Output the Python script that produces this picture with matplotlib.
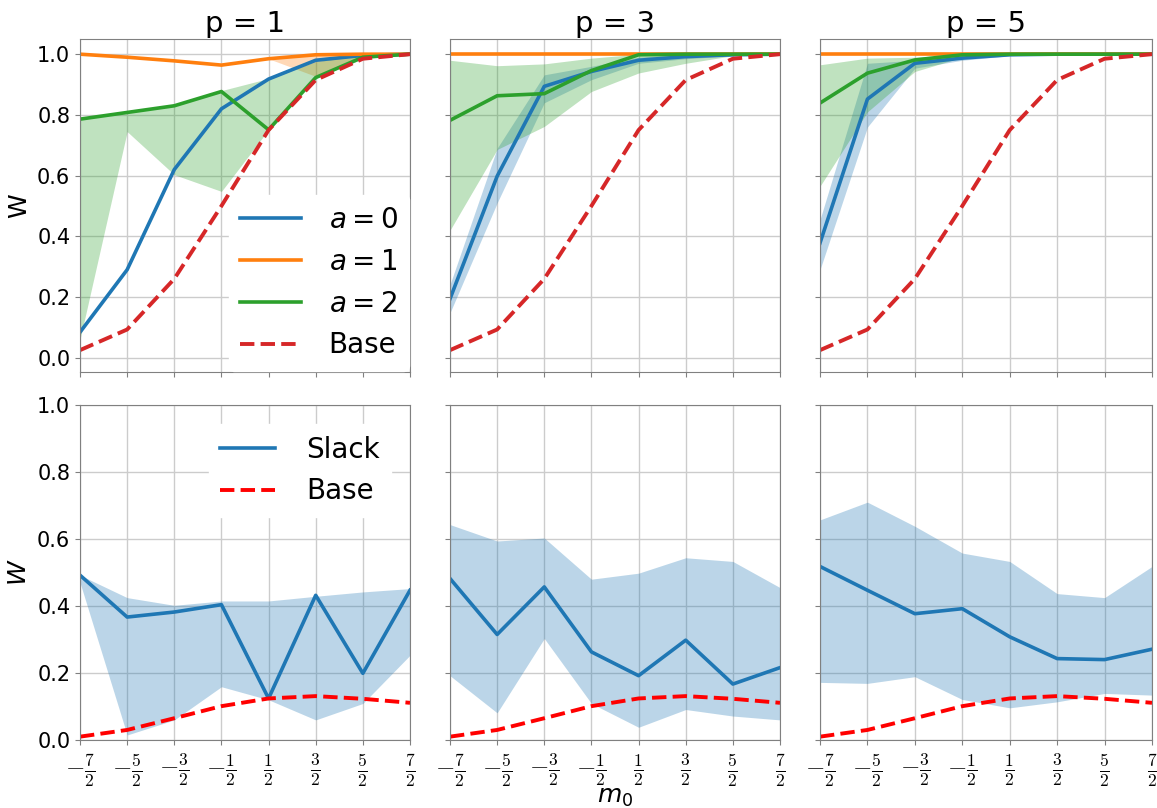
import numpy as np
import matplotlib.pyplot as plt
from matplotlib.ticker import FixedLocator, FixedFormatter

# m0 values on the x axis
m0 = [-3.5, -2.5, -1.5, -0.5, 0.5, 1.5, 2.5, 3.5]
m0_labels = [r'$-\frac{7}{2}$', r'$-\frac{5}{2}$', r'$-\frac{3}{2}$', r'$-\frac{1}{2}$',
             r'$\frac{1}{2}$', r'$\frac{3}{2}$', r'$\frac{5}{2}$', r'$\frac{7}{2}$']
p_values = [1, 3, 5]

# top row: W for a = 0, 1, 2 (mean, low, high) and the base curve
base_top = [0.025, 0.093, 0.26, 0.50, 0.75, 0.915, 0.985, 1.0]

a0_p1 = [0.084, 0.29, 0.62, 0.82, 0.918, 0.98, 0.996, 1.0]
a0_p1_lo = [0.084, 0.29, 0.62, 0.82, 0.918, 0.975, 0.995, 1.0]
a0_p1_hi = [0.084, 0.29, 0.62, 0.82, 0.92, 0.985, 1.0, 1.0]
a1_p1 = [1.0, 0.99, 0.978, 0.964, 0.985, 0.998, 1.0, 1.0]
a1_p1_lo = [1.0, 0.99, 0.978, 0.964, 0.985, 0.927, 0.99, 1.0]
a1_p1_hi = [1.0, 0.99, 0.978, 0.964, 0.985, 1.0, 1.0, 1.0]
a2_p1 = [0.786, 0.808, 0.83, 0.877, 0.751, 0.923, 0.99, 1.0]
a2_p1_lo = [0.06, 0.745, 0.603, 0.548, 0.751, 0.92, 0.985, 1.0]
a2_p1_hi = [0.786, 0.81, 0.835, 0.88, 0.92, 0.975, 1.0, 1.0]

a0_p3 = [0.194, 0.598, 0.894, 0.943, 0.98, 0.992, 0.998, 1.0]
a0_p3_lo = [0.148, 0.51, 0.84, 0.916, 0.97, 0.985, 0.995, 1.0]
a0_p3_hi = [0.241, 0.69, 0.932, 0.96, 0.99, 1.0, 1.0, 1.0]
a1_p3 = [1.0, 1.0, 1.0, 1.0, 1.0, 1.0, 1.0, 1.0]
a1_p3_lo = [1.0, 1.0, 1.0, 1.0, 1.0, 1.0, 1.0, 1.0]
a1_p3_hi = [1.0, 1.0, 1.0, 1.0, 1.0, 1.0, 1.0, 1.0]
a2_p3 = [0.782, 0.863, 0.87, 0.946, 0.998, 1.0, 1.0, 1.0]
a2_p3_lo = [0.42, 0.686, 0.762, 0.877, 0.938, 0.97, 0.995, 1.0]
a2_p3_hi = [0.98, 0.962, 0.968, 0.987, 1.0, 1.0, 1.0, 1.0]

a0_p5 = [0.378, 0.852, 0.97, 0.987, 0.998, 1.0, 1.0, 1.0]
a0_p5_lo = [0.29, 0.76, 0.954, 0.98, 0.995, 1.0, 1.0, 1.0]
a0_p5_hi = [0.455, 0.97, 0.98, 0.995, 1.0, 1.0, 1.0, 1.0]
a1_p5 = [1.0, 1.0, 1.0, 1.0, 1.0, 1.0, 1.0, 1.0]
a1_p5_lo = [1.0, 1.0, 1.0, 1.0, 1.0, 1.0, 1.0, 1.0]
a1_p5_hi = [1.0, 1.0, 1.0, 1.0, 1.0, 1.0, 1.0, 1.0]
a2_p5 = [0.839, 0.9375, 0.981, 0.998, 1.0, 1.0, 1.0, 1.0]
a2_p5_lo = [0.565, 0.81, 0.943, 0.99, 1.0, 1.0, 1.0, 1.0]
a2_p5_hi = [0.965, 0.987, 0.99, 1.0, 1.0, 1.0, 1.0, 1.0]

# bottom row: slack W (mean, low, high) and the base curve
base_bot = [0.01, 0.03, 0.065, 0.101, 0.124, 0.131, 0.123, 0.111]

slack_p1 = [0.492, 0.367, 0.382, 0.404, 0.124, 0.432, 0.199, 0.447]
slack_p1_lo = [0.47, 0.015, 0.06, 0.159, 0.12, 0.06, 0.109, 0.253]
slack_p1_hi = [0.492, 0.425, 0.402, 0.415, 0.415, 0.429, 0.442, 0.452]
slack_p3 = [0.482, 0.315, 0.457, 0.263, 0.192, 0.298, 0.167, 0.216]
slack_p3_lo = [0.192, 0.081, 0.303, 0.109, 0.038, 0.091, 0.0715, 0.06]
slack_p3_hi = [0.643, 0.594, 0.603, 0.48, 0.498, 0.544, 0.533, 0.455]
slack_p5 = [0.518, 0.447, 0.377, 0.392, 0.308, 0.243, 0.24, 0.271]
slack_p5_lo = [0.172, 0.169, 0.189, 0.121, 0.096, 0.114, 0.139, 0.134]
slack_p5_hi = [0.657, 0.71, 0.638, 0.558, 0.533, 0.437, 0.425, 0.518]

top_data = [
    [(a0_p1, a0_p1_lo, a0_p1_hi), (a1_p1, a1_p1_lo, a1_p1_hi), (a2_p1, a2_p1_lo, a2_p1_hi)],
    [(a0_p3, a0_p3_lo, a0_p3_hi), (a1_p3, a1_p3_lo, a1_p3_hi), (a2_p3, a2_p3_lo, a2_p3_hi)],
    [(a0_p5, a0_p5_lo, a0_p5_hi), (a1_p5, a1_p5_lo, a1_p5_hi), (a2_p5, a2_p5_lo, a2_p5_hi)],
]
bot_data = [(slack_p1, slack_p1_lo, slack_p1_hi),
            (slack_p3, slack_p3_lo, slack_p3_hi),
            (slack_p5, slack_p5_lo, slack_p5_hi)]

colors = ['tab:blue', 'tab:orange', 'tab:green']
W, H = 1157, 808
fig = plt.figure(figsize=(W / 100, H / 100), dpi=100)

lefts = [80, 450, 820]
rights = [410, 780, 1152]
top_y = (39, 372)
bot_y = (405, 740)


def make_ax(i, ys):
    x0, x1 = lefts[i], rights[i]
    return fig.add_axes([x0 / W, 1 - ys[1] / H, (x1 - x0) / W, (ys[1] - ys[0]) / H])


def style(ax):
    ax.grid(True, color='#cccccc', lw=1)
    ax.set_axisbelow(True)
    for s in ax.spines.values():
        s.set_color('#808080')
    ax.tick_params(colors='#808080', labelcolor='black', labelsize=15)
    ax.set_xlim(-3.5, 3.5)
    ax.set_yticks([0.0, 0.2, 0.4, 0.6, 0.8, 1.0])
    ax.xaxis.set_major_locator(FixedLocator(m0))


for i, p in enumerate(p_values):
    ax = make_ax(i, top_y)
    style(ax)
    for k, (mean, lo, hi) in enumerate(top_data[i]):
        ax.plot(m0, mean, color=colors[k], lw=2.6, label=f'$a={k}$')
        ax.fill_between(m0, lo, hi, color=colors[k], alpha=0.3, lw=0)
    ax.plot(m0, base_top, color='tab:red', ls='--', lw=2.8, label='Base')
    ax.set_ylim(-0.047, 1.05)
    ax.tick_params(labelbottom=False)
    ax.set_title(f'p = {p}', fontsize=21, pad=5)
    if i == 0:
        ax.set_ylabel('W', fontsize=18)
        ax.legend(loc='lower right', fontsize=20, frameon=True, framealpha=1,
                  edgecolor='white', borderaxespad=0.05, handlelength=2.2,
                  handletextpad=1.0)
    else:
        ax.tick_params(labelleft=False)

    ax = make_ax(i, bot_y)
    style(ax)
    mean, lo, hi = bot_data[i]
    ax.plot(m0, mean, color='tab:blue', lw=2.6, label='Slack')
    ax.fill_between(m0, lo, hi, color='tab:blue', alpha=0.3, lw=0)
    ax.plot(m0, base_bot, color='red', ls='--', lw=2.8, label='Base')
    ax.set_ylim(0, 1)
    ax.xaxis.set_major_formatter(FixedFormatter(m0_labels))
    ax.tick_params(axis='x', pad=5)
    for t in ax.get_xticklabels():
        t.set_math_fontfamily('cm')
        t.set_fontsize(18)
    if i == 0:
        ax.set_ylabel('$W$', fontsize=18)
        ax.legend(loc='upper right', fontsize=20, frameon=True, framealpha=1,
                  edgecolor='white', borderaxespad=0.7, handlelength=2.0,
                  handletextpad=1.1)
    else:
        ax.tick_params(labelleft=False)
    if i == 1:
        ax.set_xlabel('$m_0$', fontsize=18)
        ax.xaxis.set_label_coords(0.5, -0.135)

fig.savefig('out.png', dpi=100)
